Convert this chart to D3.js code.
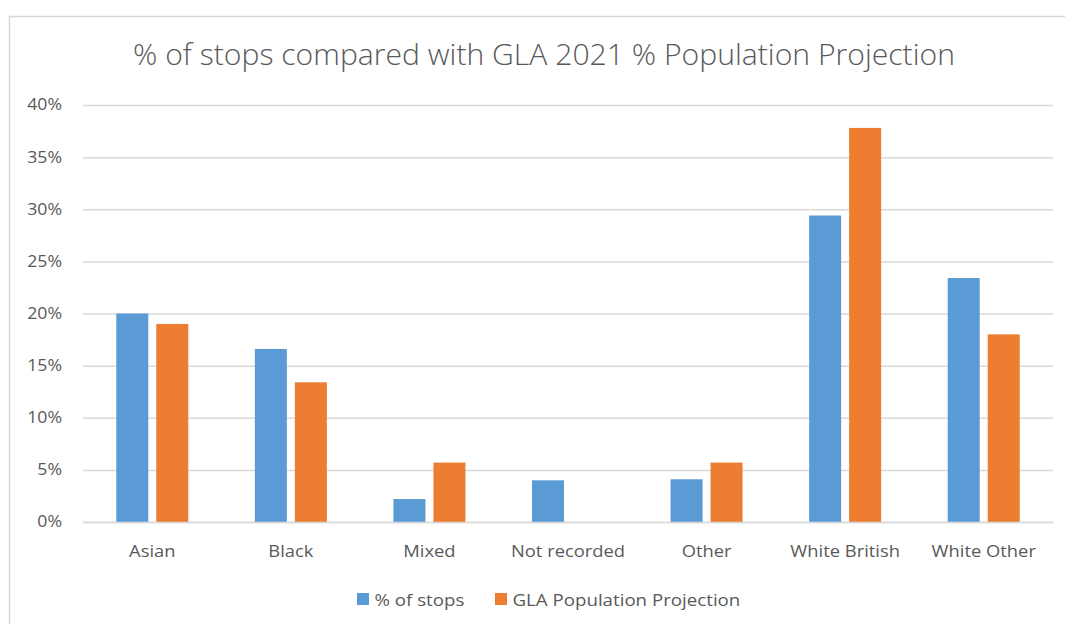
<!DOCTYPE html>
<html>
<head>
<meta charset="utf-8">
<script src="https://cdn.jsdelivr.net/npm/d3@7/dist/d3.min.js"></script>
<style>
  html, body { margin: 0; padding: 0; background: #fff; }
  svg { display: block; }
  text { font-family: "Open Sans", Lato, sans-serif; fill: #595959; }
</style>
</head>
<body>
<svg id="chart" width="1065" height="624"></svg>
<script>
// Ethnic group categories on the x axis
const categories = ["Asian", "Black", "Mixed", "Not recorded", "Other", "White British", "White Other"];
// Share of stop and search (%)
const stopsPct = [20.0, 16.6, 2.2, 4.0, 4.1, 29.4, 23.4];
// GLA 2021 population projection share (%)
const populationPct = [19.0, 13.4, 5.7, 0, 5.7, 37.8, 18.0];
const seriesNames = ["% of stops", "GLA Population Projection"];
const yTicks = [0, 5, 10, 15, 20, 25, 30, 35, 40];

const colors = ["#5B9BD5", "#ED7D31"];
const W = 1065, H = 624;
const plot = { left: 83, right: 1053, top: 105, bottom: 522 };
const FONT = "'Open Sans', Lato, sans-serif";
const STRETCH = 1.1; // slightly wide lettering

const svg = d3.select("#chart");

// chart frame
svg.append("rect")
  .attr("x", 9.5).attr("y", 16.5)
  .attr("width", W + 20).attr("height", H + 20)
  .attr("fill", "#fff").attr("stroke", "#d9d9d9").attr("stroke-width", 1.5);

const x0 = d3.scaleBand().domain(categories).range([plot.left, plot.right]).padding(0);
const x1 = d3.scaleBand().domain(seriesNames).range([-36, 36]).paddingInner(0.2).paddingOuter(0);
const y = d3.scaleLinear().domain([0, 40]).range([plot.bottom, plot.top]);

// gridlines + y labels
const yAxis = d3.axisLeft(y).tickValues(yTicks).tickFormat(d => d + "%")
  .tickSize(-(plot.right - plot.left)).tickPadding(21);
const gy = svg.append("g").attr("transform", `translate(${plot.left},0)`).call(yAxis);
gy.select(".domain").remove();
gy.selectAll(".tick line").attr("stroke", "#d9d9d9").attr("stroke-width", 1.5);
gy.selectAll(".tick text")
  .attr("font-size", 15.5).attr("fill", "#595959")
  .style("font-family", FONT)
  .attr("x", 0)
  .attr("transform", "translate(-21,0) scale(1.14,1)");

// bars
const rows = categories.map((c, i) => ({ cat: c, vals: [stopsPct[i], populationPct[i]] }));
const groups = svg.append("g").selectAll("g").data(rows).join("g")
  .attr("transform", d => `translate(${x0(d.cat) + x0.bandwidth() / 2},0)`);
groups.selectAll("rect")
  .data(d => d.vals.map((v, j) => ({ v, s: seriesNames[j], j })).filter(e => e.v > 0))
  .join("rect")
  .attr("x", d => x1(d.s))
  .attr("width", x1.bandwidth())
  .attr("y", d => y(d.v))
  .attr("height", d => y(0) - y(d.v))
  .attr("fill", d => colors[d.j]);

// x axis baseline and category labels
const xAxis = d3.axisBottom(x0).tickSize(0).tickPadding(23);
const gx = svg.append("g").attr("transform", `translate(0,${plot.bottom})`).call(xAxis);
gx.select(".domain").attr("stroke", "#d9d9d9").attr("stroke-width", 1.5);
gx.selectAll(".tick text")
  .attr("font-size", 17).attr("fill", "#595959")
  .style("font-family", FONT)
  .attr("transform", `scale(${STRETCH - 0.02},1)`);

// title
const title = svg.append("text")
  .attr("x", 544).attr("y", 65)
  .attr("text-anchor", "middle")
  .attr("font-size", 30)
  .style("font-weight", 300)
  .text("% of stops compared with GLA 2021 % Population Projection");
{
  const w = title.node().getComputedTextLength();
  title.attr("font-size", 30 * 822 / w);
}

// legend
const legendItems = [
  { name: seriesNames[0], color: colors[0], x: 357 },
  { name: seriesNames[1], color: colors[1], x: 495 }
];
const lg = svg.append("g").selectAll("g").data(legendItems).join("g")
  .attr("transform", d => `translate(${d.x},593)`);
lg.append("rect").attr("width", 12).attr("height", 12).attr("fill", d => d.color);
lg.append("text")
  .attr("transform", `translate(17.5,12.5) scale(${STRETCH},1)`)
  .attr("font-size", 17).text(d => d.name);
</script>
</body>
</html>
